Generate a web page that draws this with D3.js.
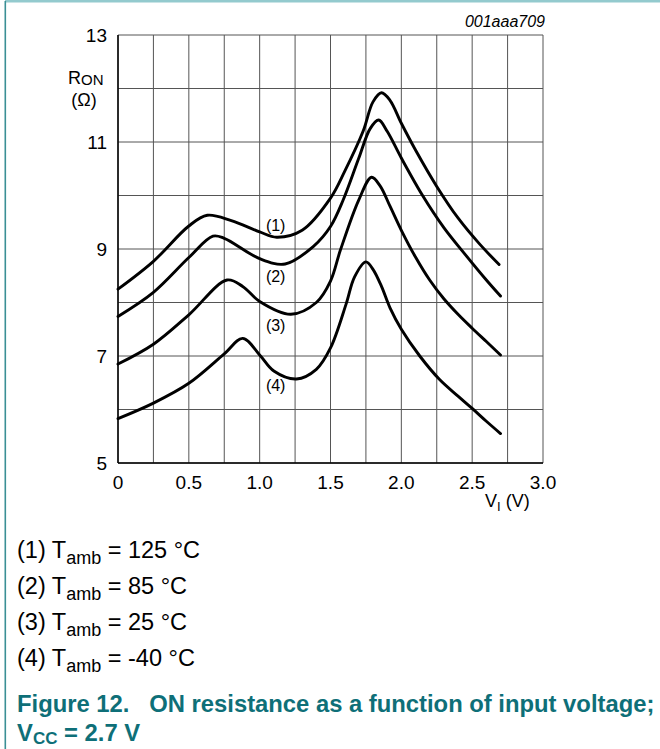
<!DOCTYPE html>
<html>
<head>
<meta charset="utf-8">
<script src="https://cdn.jsdelivr.net/npm/d3@7"></script>
<style>
  body { margin: 0; background: #fff; }
  svg { font-family: "Liberation Sans", Arial, sans-serif; }
</style>
</head>
<body>
<svg width="660" height="749"></svg>
<script>
// [V_I, R_ON]
const curve125 = [[0,8.25],[0.25,8.77],[0.5,9.43],[0.63,9.63],[0.8,9.53],[1.0,9.32],[1.12,9.22],[1.3,9.35],[1.5,9.95],[1.6,10.45],[1.73,11.2],[1.8,11.75],[1.86,11.92],[1.92,11.78],[2.0,11.35],[2.1,10.85],[2.25,10.17],[2.4,9.58],[2.55,9.1],[2.69,8.71]];
const curve85 = [[0,7.74],[0.25,8.19],[0.5,8.84],[0.67,9.24],[0.75,9.2],[1.0,8.82],[1.18,8.72],[1.38,9.05],[1.5,9.42],[1.59,9.92],[1.7,10.7],[1.78,11.25],[1.84,11.41],[1.9,11.2],[2.0,10.7],[2.15,10.0],[2.3,9.4],[2.45,8.9],[2.6,8.42],[2.7,8.12]];
const curve25 = [[0,6.85],[0.25,7.22],[0.5,7.77],[0.77,8.42],[0.88,8.3],[1.0,8.02],[1.22,7.78],[1.4,8.0],[1.5,8.4],[1.57,8.98],[1.7,9.92],[1.79,10.34],[1.85,10.18],[1.92,9.8],[2.0,9.35],[2.1,8.85],[2.2,8.42],[2.3,8.07],[2.4,7.78],[2.5,7.52],[2.6,7.27],[2.7,7.02]];
const curveM40 = [[0,5.83],[0.25,6.12],[0.5,6.49],[0.75,7.04],[0.88,7.33],[1.0,7.02],[1.1,6.72],[1.26,6.57],[1.4,6.75],[1.5,7.15],[1.61,7.97],[1.67,8.48],[1.75,8.76],[1.8,8.62],[1.86,8.3],[1.92,7.9],[2.0,7.5],[2.13,7.0],[2.27,6.56],[2.4,6.25],[2.5,6.02],[2.6,5.78],[2.7,5.55]];
const curves = [curve125, curve85, curve25, curveM40];
const curveLabels = ['(1)', '(2)', '(3)', '(4)'];
const labelPos = [[1.113,9.45],[1.113,8.5],[1.113,7.58],[1.113,6.46]];
const xTicks = [0, 0.5, 1.0, 1.5, 2.0, 2.5, 3.0];
const yTicks = [5, 7, 9, 11, 13];
const legendTemps = ['125', '85', '25', '-40'];

const svg = d3.select('svg');
const teal = '#0e6f78';

// page frame
svg.append('rect').attr('x', 5).attr('y', 0).attr('width', 655).attr('height', 2.5).attr('fill', '#93cace');
svg.append('rect').attr('x', 4.5).attr('y', 1).attr('width', 1.6).attr('height', 748).attr('fill', '#3a8f95');

const x = d3.scaleLinear().domain([0, 3]).range([118, 543]);
const y = d3.scaleLinear().domain([5, 13]).range([463, 35]);

const g = svg.append('g');

// grid
g.selectAll('.vg').data(d3.range(0, 3.001, 0.25)).enter().append('line')
  .attr('x1', d => x(d)).attr('x2', d => x(d)).attr('y1', y(5)).attr('y2', y(13))
  .attr('stroke', '#555').attr('stroke-width', 1);
g.selectAll('.hg').data(d3.range(5, 13.001, 1)).enter().append('line')
  .attr('x1', x(0)).attr('x2', x(3)).attr('y1', d => y(d)).attr('y2', d => y(d))
  .attr('stroke', '#555').attr('stroke-width', 1);

// axes
g.append('line').attr('x1', x(0)).attr('x2', x(0)).attr('y1', y(5)).attr('y2', y(13)).attr('stroke', '#000').attr('stroke-width', 1.5);
g.append('line').attr('x1', x(0)).attr('x2', x(3)).attr('y1', y(5)).attr('y2', y(5)).attr('stroke', '#000').attr('stroke-width', 1.5);

g.selectAll('.xt').data(xTicks).enter().append('text')
  .attr('x', d => x(d)).attr('y', 489).attr('text-anchor', 'middle')
  .attr('font-size', 19).text(d => d === 0 ? '0' : d.toFixed(1));
g.selectAll('.yt').data(yTicks).enter().append('text')
  .attr('x', 107).attr('y', d => y(d) + 7).attr('text-anchor', 'end')
  .attr('font-size', 19).text(d => d);

// axis titles
const rl = svg.append('text').attr('x', 68).attr('y', 84).attr('font-size', 18);
rl.append('tspan').text('R');
rl.append('tspan').attr('font-size', 15).attr('dy', 1).text('ON');
svg.append('text').attr('x', 84).attr('y', 106).attr('text-anchor', 'middle').attr('font-size', 18).text('(Ω)');

const vl = svg.append('text').attr('x', 485).attr('y', 507).attr('font-size', 18);
vl.append('tspan').text('V');
vl.append('tspan').attr('font-size', 13).attr('dy', 4).text('I');
vl.append('tspan').attr('dy', -4).text(' (V)');

svg.append('text').attr('x', 545).attr('y', 27).attr('text-anchor', 'end')
  .attr('font-size', 16).attr('font-style', 'italic').text('001aaa709');

// curves
const line = d3.line().x(d => x(d[0])).y(d => y(d[1])).curve(d3.curveCatmullRom.alpha(0.5));
g.selectAll('.curve').data(curves).enter().append('path')
  .attr('d', line).attr('fill', 'none').attr('stroke', '#000').attr('stroke-width', 2.9)
  .attr('stroke-linecap', 'round');

g.selectAll('.cl').data(curveLabels).enter().append('text')
  .attr('x', (d, i) => x(labelPos[i][0])).attr('y', (d, i) => y(labelPos[i][1]) + 6)
  .attr('text-anchor', 'middle').attr('font-size', 16).text(d => d);

// legend
legendTemps.forEach((t, i) => {
  const tx = svg.append('text').attr('x', 17).attr('y', 558 + i * 36).attr('font-size', 23.5);
  tx.append('tspan').text('(' + (i + 1) + ') T');
  tx.append('tspan').attr('font-size', 18).attr('dy', 6).text('amb');
  tx.append('tspan').attr('dy', -6).text(' = ' + t + ' °C');
});

// caption
svg.append('text').attr('x', 17).attr('y', 712).attr('font-size', 23.8).attr('font-weight', 'bold')
  .attr('fill', teal).attr('xml:space', 'preserve').text('Figure 12.   ON resistance as a function of input voltage;');
const cap2 = svg.append('text').attr('x', 17).attr('y', 741).attr('font-size', 23.8).attr('font-weight', 'bold').attr('fill', teal);
cap2.append('tspan').text('V');
cap2.append('tspan').attr('font-size', 17).attr('dy', 3).text('CC');
cap2.append('tspan').attr('dy', -3).text(' = 2.7 V');
</script>
</body>
</html>
